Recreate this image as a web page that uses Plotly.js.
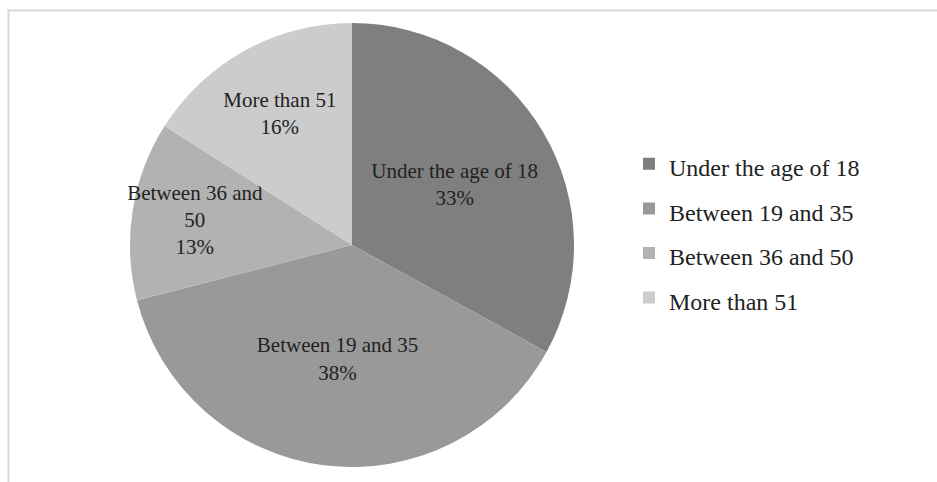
<!DOCTYPE html>
<html>
<head>
<meta charset="utf-8">
<script src="https://cdn.plot.ly/plotly-3.0.1.min.js"></script>
<style>html,body{margin:0;padding:0;background:#fff;}#chart{width:937px;height:482px;}</style>
</head>
<body>
<div id="chart"></div>
<script>
var categories = ["Under the age of 18", "Between 19 and 35", "Between 36 and 50", "More than 51"];
var sliceText = ["Under the age of 18", "Between 19 and 35", "Between 36 and<br>50", "More than 51"];
var values = [33, 38, 13, 16];
var colors = ["#7f7f7f", "#999999", "#b2b2b2", "#cccccc"];

var W = 937, H = 482;
var legendLabels = categories.map(function (c) { return "<span style='font-size:24px'>" + c + "</span>"; });
var trace = {
  type: "pie",
  labels: legendLabels,
  values: values,
  customdata: sliceText,
  sort: false,
  direction: "clockwise",
  rotation: 0,
  marker: {colors: colors, line: {width: 0}},
  texttemplate: "%{customdata}<br>%{percent:.0%}",
  textposition: "inside",
  insidetextorientation: "horizontal",
  textfont: {family: "Liberation Serif", size: 21, color: "#222222"},
  hoverinfo: "percent",
  domain: {x: [130 / W, 574 / W], y: [15 / H, 459 / H]}
};
var layout = {
  width: W, height: H,
  margin: {l: 0, r: 0, t: 0, b: 0},
  paper_bgcolor: "#ffffff",
  showlegend: true,
  uniformtext: {mode: "show", minsize: 21},
  legend: {
    x: 629 / W, y: 1 - 231 / H, xanchor: "left", yanchor: "middle",
    font: {family: "Liberation Serif", size: 32, color: "#222222"},
    itemwidth: 30
  },
  shapes: [
    {type: "line", xref: "paper", yref: "paper", x0: 8.5 / W, x1: 8.5 / W, y0: 0, y1: 1 - 10.5 / H, line: {color: "#d9d9d9", width: 2}},
    {type: "line", xref: "paper", yref: "paper", x0: 7.5 / W, x1: 1, y0: 1 - 10.5 / H, y1: 1 - 10.5 / H, line: {color: "#d9d9d9", width: 2}}
  ]
};
Plotly.newPlot("chart", [trace], layout, {displayModeBar: false, staticPlot: true});
</script>
</body>
</html>
